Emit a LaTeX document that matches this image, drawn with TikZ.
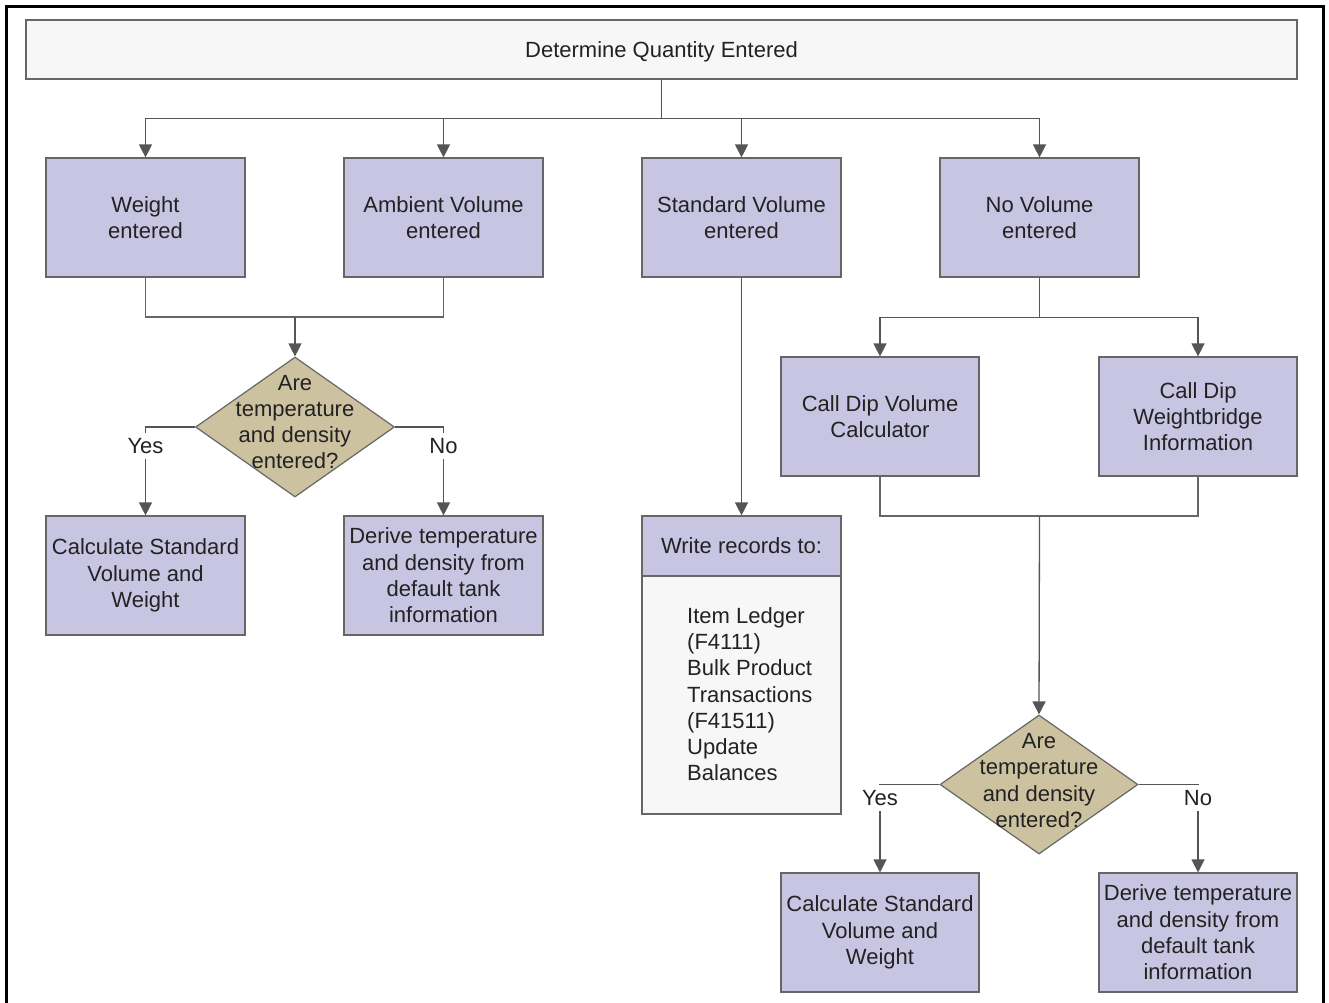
\documentclass[tikz,border=0pt]{standalone}
\usepackage{fontspec}
\setmainfont{Liberation Sans}
\usetikzlibrary{arrows.meta,shapes.geometric}
\definecolor{boxfill}{RGB}{200,197,226}
\definecolor{decfill}{RGB}{205,194,160}
\definecolor{panelfill}{RGB}{247,247,247}
\definecolor{edge}{RGB}{102,102,102}
\definecolor{ink}{RGB}{34,34,34}
\definecolor{tipgray}{RGB}{85,85,85}

\begin{document}
\begin{tikzpicture}[x=1pt,y=-1pt,
  every node/.style={font=\fontsize{22}{26.3}\selectfont, text=ink},
  box/.style={draw=edge, line width=1.2pt, fill=boxfill, minimum width=199pt,
    minimum height=119pt, inner sep=0pt, align=center},
  panel/.style={draw=edge, line width=1.2pt, fill=panelfill, inner sep=0pt},
  decision/.style={diamond, draw=edge, line width=1.2pt, fill=decfill,
    minimum width=199pt, minimum height=140pt, inner sep=0pt},
  dtext/.style={align=center, inner sep=0pt},
  wire/.style={draw=edge, line width=1.3pt},
  arr/.style={wire, -{Triangle[width=13pt,length=13pt]}, color=tipgray},
  lbl/.style={fill=white, inner xsep=2pt, inner ysep=5pt}
]
\useasboundingbox (0,0) rectangle (1329,1002);

% outer frame
\draw[line width=3pt, black] (6,6) rectangle (1323,1040);

% header
\node[panel, minimum width=1271pt, minimum height=59pt, text depth=0pt] (top) at (661.5,49.5)
  {Determine Quantity Entered};

% first row
\node[box] (wgt) at (145.5,217.5) {Weight\\entered};
\node[box] (amb) at (443.5,217.5) {Ambient Volume\\entered};
\node[box] (std) at (741.5,217.5) {Standard Volume\\entered};
\node[box] (nov) at (1039.5,217.5) {No Volume\\entered};

% left branch
\node[decision] (d1) at (295,427) {};
\node[dtext] (d1t) at (295,422) {Are\\temperature\\and density\\entered?};
\node[box] (calc1) at (145.5,575.5) {Calculate Standard\\Volume and\\Weight};
\node[box] (der1) at (443.5,575.5) {Derive temperature\\and density from\\default tank\\information};

% write records panel
\node[box, minimum height=60pt, text depth=0pt] (wrh) at (741.5,546) {Write records to:};
\node[panel, minimum width=199pt, minimum height=238pt] (wrb) at (741.5,695) {};
\node[align=left, inner sep=0pt, anchor=north west] (wrt) at (687,607)
  {Item Ledger\\(F4111)\\Bulk Product\\Transactions\\(F41511)\\Update\\Balances};

% right branch
\node[box, minimum width=198pt] (cdv) at (880,416.5) {Call Dip Volume\\Calculator};
\node[box, minimum width=198pt] (cdw) at (1198,416.5) {Call Dip\\Weightbridge\\Information};
\node[decision, minimum width=198pt, minimum height=139pt] (d2) at (1039,784.5) {};
\node[dtext] (d2t) at (1039,780.5) {Are\\temperature\\and density\\entered?};
\node[box, minimum width=198pt] (calc2) at (880,932.5) {Calculate Standard\\Volume and\\Weight};
\node[box, minimum width=198pt] (der2) at (1198,932.5) {Derive temperature\\and density from\\default tank\\information};

% junction points
\coordinate (j1) at (295,317);
\coordinate (j2) at (1039.5,516);

% connectors from the header
\draw[arr] (top.south) -- ++(0,39) -| (wgt.north);
\draw[arr] (top.south) -- ++(0,39) -| (amb.north);
\draw[arr] (top.south) -- ++(0,39) -| (std.north);
\draw[arr] (top.south) -- ++(0,39) -| (nov.north);

% weight / ambient to decision
\draw[wire] (wgt.south) |- (j1);
\draw[wire] (amb.south) |- (j1);
\draw[arr] (j1) -- (d1.north);
\draw[arr] (d1.west) -| (calc1.north);
\draw[arr] (d1.east) -| (der1.north);
\node[lbl, text depth=0pt] (y1) at (145.5,446) {Yes};
\node[lbl, text depth=0pt] (n1) at (443.5,446) {No};

% standard volume to write records
\draw[arr] (std.south) -- (wrh.north);

% no volume branch
\draw[arr] (nov.south) -- ++(0,40) -| (cdv.north);
\draw[arr] (nov.south) -- ++(0,40) -| (cdw.north);
\draw[wire] (cdv.south) |- (j2);
\draw[wire] (cdw.south) |- (j2);
\draw[arr] (j2) -- (d2.north);
\draw[arr] (d2.west) -| (calc2.north);
\draw[arr] (d2.east) -| (der2.north);
\node[lbl, text depth=0pt] (y2) at (880,798) {Yes};
\node[lbl, text depth=0pt] (n2) at (1198,798) {No};
\end{tikzpicture}
\end{document}
